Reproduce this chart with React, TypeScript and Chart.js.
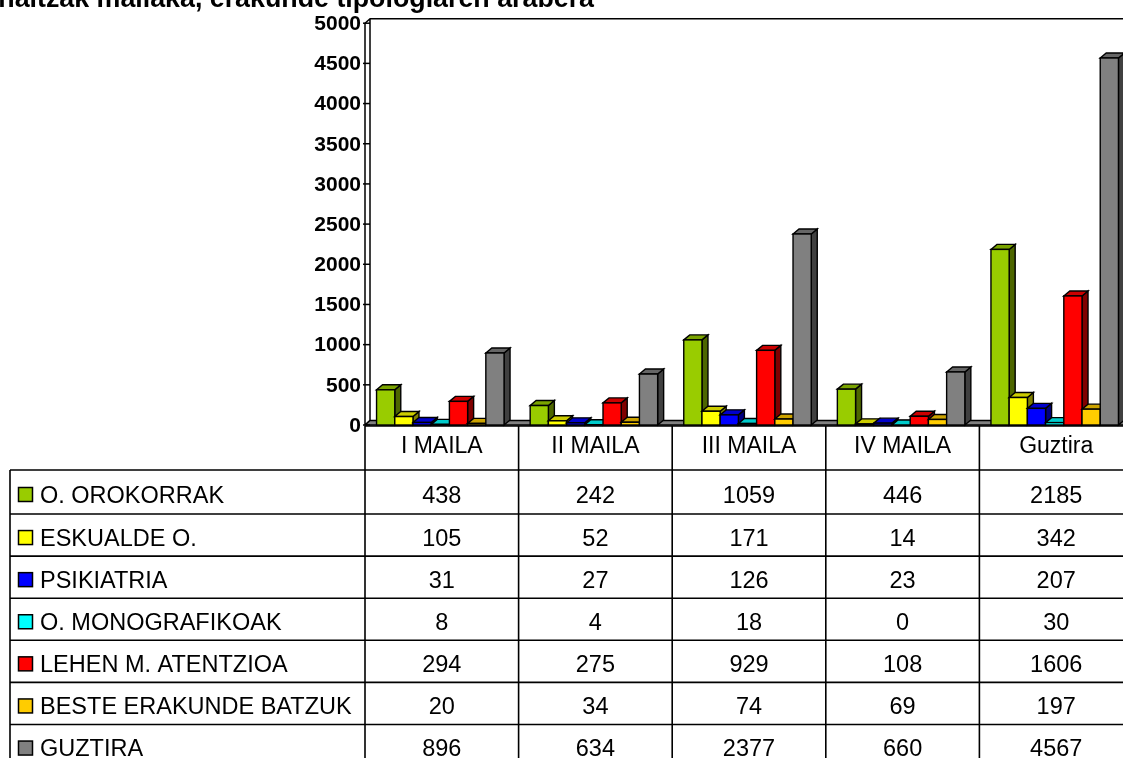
import React, { useEffect, useRef } from "react";
import { Chart, registerables } from "chart.js";

Chart.register(...registerables);

// ---------- data ----------
const categories = ["I MAILA", "II MAILA", "III MAILA", "IV MAILA", "Guztira"];
const seriesNames = [
  "O. OROKORRAK",
  "ESKUALDE O.",
  "PSIKIATRIA",
  "O. MONOGRAFIKOAK",
  "LEHEN M. ATENTZIOA",
  "BESTE ERAKUNDE BATZUK",
  "GUZTIRA",
];
const oOrokorrak = [438, 242, 1059, 446, 2185];
const eskualdeO = [105, 52, 171, 14, 342];
const psikiatria = [31, 27, 126, 23, 207];
const oMonografikoak = [8, 4, 18, 0, 30];
const lehenMAtentzioa = [294, 275, 929, 108, 1606];
const besteErakundeBatzuk = [20, 34, 74, 69, 197];
const guztira = [896, 634, 2377, 660, 4567];
const seriesValues = [oOrokorrak, eskualdeO, psikiatria, oMonografikoak, lehenMAtentzioa, besteErakundeBatzuk, guztira];
const seriesColors = ["#99CC00", "#FFFF00", "#0000FF", "#00FFFF", "#FF0000", "#FFCC00", "#808080"];
const yMin = 0;
const yMax = 5000;
const yStep = 500;
const titleText = "naitzak mailaka, erakunde tipologiaren arabera";

// ---------- layout constants ----------
const CANVAS_W = 1140;
const CANVAS_H = 758;
const FONT = '"Liberation Sans", Arial, sans-serif';
const DX = 6; // bar depth
const DY = 5;
const WDX = 5; // wall depth
const WDY = 4.5;

function shade(hex: string, f: number): string {
  const n = parseInt(hex.slice(1), 16);
  const r = Math.round(((n >> 16) & 255) * f);
  const g = Math.round(((n >> 8) & 255) * f);
  const b = Math.round((n & 255) * f);
  return `rgb(${r},${g},${b})`;
}

function poly(ctx: CanvasRenderingContext2D, pts: number[][], fill: string) {
  ctx.beginPath();
  ctx.moveTo(pts[0][0], pts[0][1]);
  for (let i = 1; i < pts.length; i++) ctx.lineTo(pts[i][0], pts[i][1]);
  ctx.closePath();
  ctx.fillStyle = fill;
  ctx.fill();
  ctx.stroke();
}

const excel3dPlugin = {
  id: "excel3d",
  beforeDatasetsDraw(chart: any) {
    const ctx: CanvasRenderingContext2D = chart.ctx;
    const { left, right, top, bottom } = chart.chartArea;
    ctx.save();
    ctx.strokeStyle = "#000";
    ctx.lineWidth = 1.5;
    ctx.lineJoin = "round";
    // left wall
    poly(
      ctx,
      [
        [left, bottom],
        [left, top],
        [left + WDX, top - WDY],
        [left + WDX, bottom - WDY],
      ],
      "#fff"
    );
    // back wall top edge
    ctx.beginPath();
    ctx.moveTo(left + WDX, top - WDY);
    ctx.lineTo(right + WDX, top - WDY);
    ctx.stroke();
    // floor
    poly(
      ctx,
      [
        [left, bottom],
        [left + WDX, bottom - WDY],
        [right + WDX, bottom - WDY],
        [right, bottom],
      ],
      "#808080"
    );
    ctx.restore();
  },
  afterDatasetsDraw(chart: any) {
    const ctx: CanvasRenderingContext2D = chart.ctx;
    ctx.save();
    ctx.strokeStyle = "#000";
    ctx.lineWidth = 1.4;
    ctx.lineJoin = "miter";
    const nCat = categories.length;
    for (let i = 0; i < nCat; i++) {
      for (let d = 0; d < chart.data.datasets.length; d++) {
        const meta = chart.getDatasetMeta(d);
        const el = meta.data[i];
        if (!el) continue;
        const p = el.getProps(["x", "y", "base", "width"], true);
        const l = p.x - p.width / 2 - 1.5;
        const r = p.x + p.width / 2 - 1.5;
        const t = Math.min(p.y, p.base);
        const b = p.base;
        const c = seriesColors[d];
        // side
        poly(ctx, [[r, b], [r, t], [r + DX, t - DY], [r + DX, b - DY]], shade(c, 0.5));
        // top
        poly(ctx, [[l, t], [l + DX, t - DY], [r + DX, t - DY], [r, t]], shade(c, 0.8));
        // front
        if (b - t > 0.5) {
          ctx.fillStyle = c;
          ctx.fillRect(l, t, r - l, b - t);
          ctx.strokeRect(l, t, r - l, b - t);
        }
      }
    }
    ctx.restore();
  },
  afterDraw(chart: any) {
    const ctx: CanvasRenderingContext2D = chart.ctx;
    const { left, right, bottom } = chart.chartArea;
    const yScale = chart.scales.y;
    const xScale = chart.scales.x;
    ctx.save();

    // title (cut by top edge as in reference)
    ctx.fillStyle = "#000";
    ctx.font = `bold 26.8px ${FONT}`;
    ctx.textAlign = "right";
    ctx.textBaseline = "alphabetic";
    ctx.fillText(titleText, 594, 6.5);

    // y ticks
    ctx.font = `bold 21px ${FONT}`;
    ctx.textAlign = "right";
    ctx.textBaseline = "middle";
    ctx.strokeStyle = "#000";
    ctx.lineWidth = 1.5;
    yScale.ticks.forEach((t: any) => {
      const y = yScale.getPixelForValue(t.value);
      ctx.fillText(String(t.value), left - 4, y + 1);
      ctx.beginPath();
      ctx.moveTo(left - 2, y);
      ctx.lineTo(left + WDX, y);
      ctx.stroke();
    });

    // data table
    const tableLeft = 10;
    const headerTop = bottom + 1;
    const headerBottom = 470;
    const rowLine = (k: number) => (k === 0 ? headerBottom : 514 + (k - 1) * 42.1);
    const catW = (right - left) / categories.length;
    ctx.lineWidth = 1.6;
    ctx.strokeStyle = "#000";
    ctx.beginPath();
    ctx.moveTo(left, headerTop);
    ctx.lineTo(CANVAS_W, headerTop);
    for (let k = 0; k <= seriesNames.length; k++) {
      const y = rowLine(k);
      ctx.moveTo(tableLeft, y);
      ctx.lineTo(CANVAS_W, y);
    }
    ctx.moveTo(tableLeft, headerBottom);
    ctx.lineTo(tableLeft, CANVAS_H);
    for (let i = 0; i <= categories.length; i++) {
      const x = left + i * catW;
      ctx.moveTo(x, headerTop);
      ctx.lineTo(x, CANVAS_H);
    }
    ctx.stroke();

    // category labels
    ctx.fillStyle = "#000";
    ctx.textAlign = "center";
    ctx.textBaseline = "alphabetic";
    ctx.font = `23px ${FONT}`;
    categories.forEach((c, i) => {
      const x = xScale.getPixelForValue(i);
      ctx.fillText(c, x, 453);
    });

    // rows
    ctx.font = `23.5px ${FONT}`;
    seriesNames.forEach((name, d) => {
      const rt = rowLine(d);
      const rb = rowLine(d + 1);
      const base = rt + (rb - rt) / 2 + 10.5;
      ctx.fillStyle = seriesColors[d];
      ctx.lineWidth = 1.5;
      const sy = rt + (rb - rt) / 2 - 4.5;
      ctx.fillRect(18.5, sy, 14, 14);
      ctx.strokeRect(18.5, sy, 14, 14);
      ctx.fillStyle = "#000";
      ctx.textAlign = "left";
      ctx.fillText(name, 40, base);
      ctx.textAlign = "center";
      seriesValues[d].forEach((v, i) => {
        ctx.fillText(String(v), xScale.getPixelForValue(i), base);
      });
    });

    ctx.restore();
  },
};

export default function App() {
  const canvasRef = useRef<HTMLCanvasElement | null>(null);

  useEffect(() => {
    const canvas = canvasRef.current;
    if (!canvas) return;
    const chart = new Chart(canvas, {
      type: "bar",
      data: {
        labels: categories,
        datasets: seriesNames.map((name, d) => ({
          label: name,
          data: seriesValues[d],
          backgroundColor: "rgba(0,0,0,0)",
          borderWidth: 0,
          barPercentage: 1,
          categoryPercentage: 0.83,
        })),
      },
      options: {
        responsive: false,
        animation: false,
        devicePixelRatio: 1,
        layout: {
          padding: { left: 365, top: 23.2, right: CANVAS_W - 1133, bottom: CANVAS_H - 425 },
        },
        plugins: {
          legend: { display: false },
          tooltip: { enabled: false },
          title: { display: false },
        },
        scales: {
          x: { display: false, offset: true },
          y: {
            display: false,
            min: yMin,
            max: yMax,
            ticks: { stepSize: yStep },
          },
        },
      },
      plugins: [excel3dPlugin],
    });
    return () => chart.destroy();
  }, []);

  return (
    <div
      style={{
        position: "fixed",
        left: 0,
        top: 0,
        width: 1123,
        height: 758,
        overflow: "hidden",
        background: "#fff",
      }}
    >
      <canvas ref={canvasRef} width={CANVAS_W} height={CANVAS_H} style={{ display: "block" }} />
    </div>
  );
}
